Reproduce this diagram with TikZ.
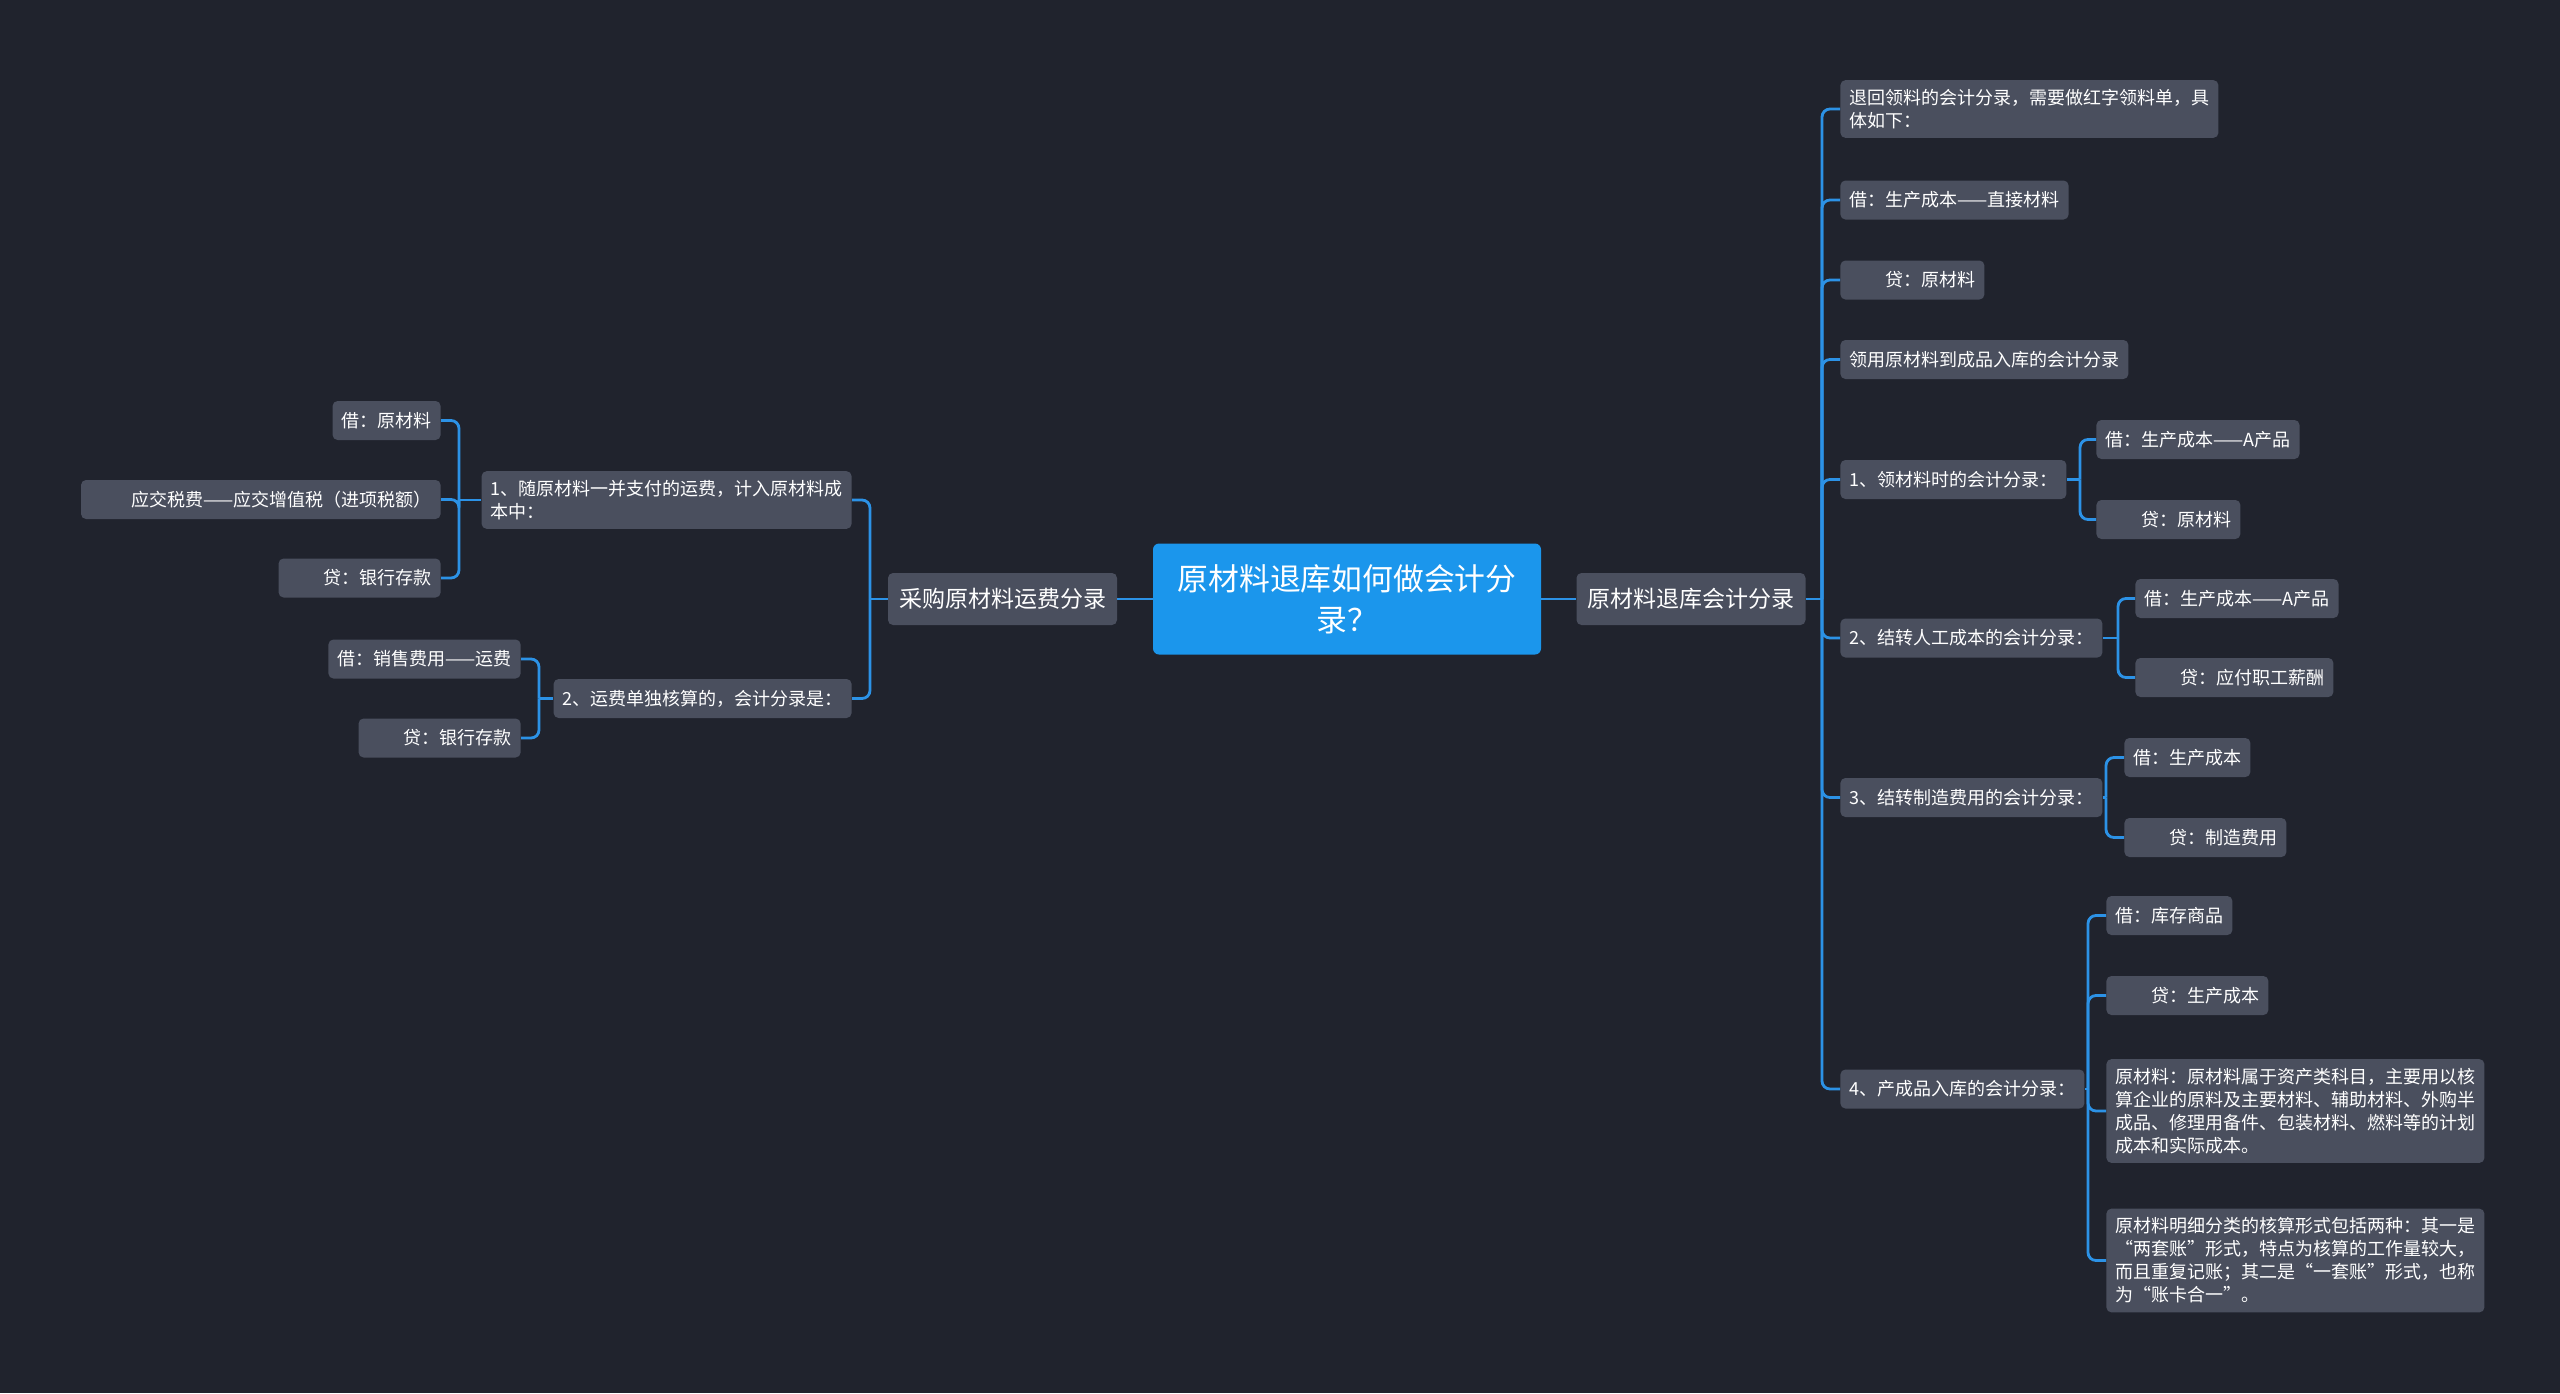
\documentclass[tikz,border=0pt]{standalone}
\usepackage{fontspec}
\setmainfont{Noto Sans CJK SC}
\definecolor{bgnavy}{HTML}{20232D}
\definecolor{boxgray}{HTML}{4A4F5E}
\definecolor{rootblue}{HTML}{1B96EC}
\definecolor{linkblue}{HTML}{2C92E6}
\begin{document}
\begin{tikzpicture}[x=0.5pt, y=-0.5pt,
  leaf/.style={fill=boxgray, text=white, rounded corners=2.5pt, inner xsep=4.5pt, inner ysep=4.5pt,
    minimum height=19.5pt, align=left, font=\fontsize{9}{11.5}\selectfont},
  branch/.style={leaf, minimum width=114.5pt, minimum height=26pt, inner xsep=5.5pt, font=\fontsize{11.5}{14}\selectfont},
  root/.style={fill=rootblue, text=white, rounded corners=3pt, minimum width=194pt, minimum height=55.5pt,
    align=center, font=\fontsize{15.4}{20.5}\selectfont},
  link/.style={draw=linkblue, line width=1.4pt, rounded corners=4pt}]
\useasboundingbox[fill=bgnavy] (0,0) rectangle (2560,1393);
% centre and main topics
\node[root] (root) at (1347,599) {原材料退库如何做会计分\\录？};
\node[branch] (lm) at (1002.5,599) {采购原材料运费分录};
\node[branch] (rm) at (1691,599) {原材料退库会计分录};
% left side
\node[leaf, anchor=east] (l1) at (852,500) {1、随原材料一并支付的运费，计入原材料成\\本中：};
\node[leaf, anchor=east] (l2) at (852,698.5) {2、运费单独核算的，会计分录是：};
\node[leaf, anchor=east] (l11) at (441,420.5) {借：原材料};
\node[leaf, anchor=east] (l12) at (441,499.5) {\hspace*{2.3em}应交税费——应交增值税（进项税额）};
\node[leaf, anchor=east] (l13) at (441,578) {\hspace*{2em}贷：银行存款};
\node[leaf, anchor=east] (l21) at (521,659) {借：销售费用——运费};
\node[leaf, anchor=east] (l22) at (521,738) {\hspace*{2em}贷：银行存款};
% right side
\node[leaf, anchor=west] (r1) at (1840,109) {退回领料的会计分录，需要做红字领料单，具\\体如下：};
\node[leaf, anchor=west] (r2) at (1840,200) {借：生产成本——直接材料};
\node[leaf, anchor=west] (r3) at (1840,280) {\hspace*{2em}贷：原材料};
\node[leaf, anchor=west] (r4) at (1840,359.5) {领用原材料到成品入库的会计分录};
\node[leaf, anchor=west] (r5) at (1840,479.5) {1、领材料时的会计分录：};
\node[leaf, anchor=west] (r6) at (1840,638) {2、结转人工成本的会计分录：};
\node[leaf, anchor=west] (r7) at (1840,797.5) {3、结转制造费用的会计分录：};
\node[leaf, anchor=west] (r8) at (1840,1089) {4、产成品入库的会计分录：};
\node[leaf, anchor=west] (r51) at (2096,439.5) {借：生产成本——A产品};
\node[leaf, anchor=west] (r52) at (2096,519.5) {\hspace*{2em}贷：原材料};
\node[leaf, anchor=west] (r61) at (2135,598.5) {借：生产成本——A产品};
\node[leaf, anchor=west] (r62) at (2135,677.5) {\hspace*{2em}贷：应付职工薪酬};
\node[leaf, anchor=west] (r71) at (2124,757.5) {借：生产成本};
\node[leaf, anchor=west] (r72) at (2124,837.5) {\hspace*{2em}贷：制造费用};
\node[leaf, anchor=west] (r81) at (2106,915.5) {借：库存商品};
\node[leaf, anchor=west] (r82) at (2106,995.5) {\hspace*{2em}贷：生产成本};
\node[leaf, anchor=west] (r83) at (2106,1111) {原材料：原材料属于资产类科目，主要用以核\\算企业的原料及主要材料、辅助材料、外购半\\成品、修理用备件、包装材料、燃料等的计划\\成本和实际成本。};
\node[leaf, anchor=west] (r84) at (2106,1260.5) {原材料明细分类的核算形式包括两种：其一是\\“两套账”形式，特点为核算的工作量较大，\\而且重复记账；其二是“一套账”形式，也称\\为“账卡合一”。};
% spine points
\coordinate (lms) at (870,599);
\coordinate (l1s) at (459,500);
\coordinate (l2s) at (539,698.5);
\coordinate (rms) at (1822,599);
\coordinate (r5s) at (2080,479.5);
\coordinate (r6s) at (2118,638);
\coordinate (r7s) at (2106,797.5);
\coordinate (r8s) at (2088,1089);
% connectors
\draw[link] (root.west) -- (lm.east);
\draw[link] (root.east) -- (rm.west);
\draw[link] (lm.west) -- (lms);
\foreach \c in {l1,l2} \draw[link] (lms) |- (\c.east);
\draw[link] (l1.west) -- (l1s);
\foreach \c in {l11,l12,l13} \draw[link] (l1s) |- (\c.east);
\draw[link] (l2.west) -- (l2s);
\foreach \c in {l21,l22} \draw[link] (l2s) |- (\c.east);
\draw[link] (rm.east) -- (rms);
\foreach \c in {r1,r2,r3,r4,r5,r6,r7,r8} \draw[link] (rms) |- (\c.west);
\draw[link] (r5.east) -- (r5s);
\foreach \c in {r51,r52} \draw[link] (r5s) |- (\c.west);
\draw[link] (r6.east) -- (r6s);
\foreach \c in {r61,r62} \draw[link] (r6s) |- (\c.west);
\draw[link] (r7.east) -- (r7s);
\foreach \c in {r71,r72} \draw[link] (r7s) |- (\c.west);
\draw[link] (r8.east) -- (r8s);
\foreach \c in {r81,r82,r83,r84} \draw[link] (r8s) |- (\c.west);
\end{tikzpicture}
\end{document}
